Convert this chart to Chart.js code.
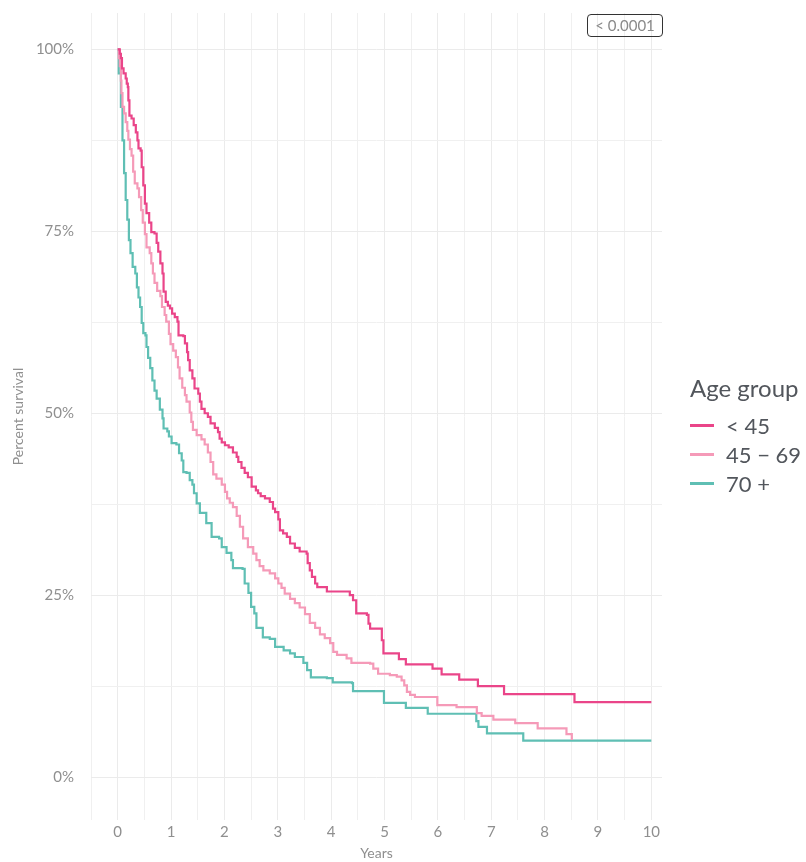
<!DOCTYPE html>
<html>
<head>
<meta charset="utf-8">
<script src="https://cdn.jsdelivr.net/npm/chart.js@4.4.1/dist/chart.umd.min.js"></script>
<style>
  html, body { margin: 0; padding: 0; background: #ffffff; }
  #wrap { position: relative; width: 806px; height: 862px; font-family: Lato, "Noto Sans", sans-serif; }
  #c { position: absolute; left: 0; top: 0; }
  #pbox { position: absolute; left: 587px; top: 14px; width: 74px; height: 21px; border: 1px solid #333; border-radius: 4px;
          color: #8a8a8a; font-size: 15px; line-height: 21px; text-align: center; box-sizing: content-box; }
  #legend { position: absolute; left: 690px; top: 372px; color: #52565c; }
  #legend .title { font-size: 24px; line-height: 32px; margin-bottom: 7px; }
  #legend .item { display: flex; align-items: center; height: 29px; font-size: 22px; }
  #legend .sw { width: 24px; height: 2.5px; margin-right: 12px; }
</style>
</head>
<body>
<div id="wrap">
  <canvas id="c" width="806" height="862"></canvas>
  <div id="pbox">&lt; 0.0001</div>
  <div id="legend"></div>
</div>
<script>
// ---- Data (years, percent survival) ----
const seriesLabels = ["< 45", "45 \u2212 69", "70 +"];
const seriesColors = ["#EA4589", "#F59AB8", "#5FBFB4"];

const timeLt45 = [0,0.04,0.06,0.08,0.11,0.15,0.17,0.19,0.20,0.22,0.26,0.30,0.34,0.37,0.39,0.43,0.45,0.48,0.51,0.54,0.59,0.63,0.69,0.73,0.76,0.80,0.84,0.86,0.90,0.94,0.98,1.02,1.07,1.12,1.14,1.23,1.26,1.30,1.32,1.35,1.40,1.44,1.51,1.54,1.57,1.63,1.69,1.74,1.82,1.88,1.91,1.95,2.01,2.08,2.16,2.23,2.26,2.32,2.38,2.44,2.51,2.59,2.63,2.68,2.76,2.85,2.91,2.95,3.01,3.04,3.10,3.17,3.23,3.32,3.41,3.54,3.56,3.60,3.64,3.70,3.74,3.92,4.35,4.41,4.47,4.67,4.70,4.73,4.95,4.98,5.27,5.40,5.90,6.07,6.40,6.75,7.24,8.56,10.0];
const survLt45 = [100,99.4,98.8,97.4,96.7,96.0,95.3,94.8,93.0,90.9,90.5,89.6,88.6,87.5,86.4,86.1,83.8,81.3,78.8,77.5,76.2,74.9,74.7,73.4,72.2,70.6,69.2,66.7,65.3,64.8,64.4,63.7,63.2,62.6,60.7,60.6,59.6,58.4,57.3,55.9,54.8,53.4,52.7,51.6,50.6,50.0,49.5,48.6,48.0,47.4,46.5,46.0,45.6,45.3,44.6,44.0,43.3,42.5,41.8,41.2,39.9,39.4,39.0,38.6,38.3,37.8,36.9,36.4,35.4,33.9,33.5,33.0,32.1,31.5,31.0,30.7,29.4,28.4,27.5,26.6,26.1,25.5,25.0,24.3,22.5,22.3,21.1,20.4,18.8,17.0,16.2,15.5,14.9,14.1,13.4,12.5,11.4,10.3,10.3];

const time45to69 = [0,0.02,0.04,0.06,0.07,0.09,0.12,0.15,0.18,0.20,0.23,0.26,0.29,0.32,0.37,0.40,0.44,0.47,0.51,0.54,0.60,0.63,0.66,0.69,0.74,0.80,0.83,0.88,0.91,0.96,0.99,1.04,1.09,1.13,1.16,1.21,1.26,1.29,1.35,1.38,1.41,1.48,1.57,1.63,1.69,1.74,1.79,1.85,1.95,2.01,2.05,2.10,2.16,2.23,2.29,2.35,2.44,2.54,2.60,2.66,2.73,2.85,2.95,3.01,3.07,3.13,3.23,3.32,3.41,3.51,3.60,3.70,3.79,3.88,3.98,4.04,4.11,4.29,4.38,4.73,4.79,4.88,5.10,5.23,5.32,5.37,5.42,5.48,5.57,5.99,6.35,6.73,6.82,7.04,7.45,7.87,8.41,8.51];
const surv45to69 = [100,98.8,97.7,95.7,94.0,92.1,91.2,90.0,88.8,87.6,86.3,85.4,83.2,81.6,80.9,79.7,77.9,76.2,74.6,72.8,72.0,70.6,69.2,67.9,66.8,66.1,64.6,63.5,62.6,60.9,59.5,58.6,57.7,56.3,54.8,53.5,52.5,51.6,50.1,48.8,47.7,47.0,46.4,45.7,44.6,43.3,41.6,41.0,40.2,39.2,38.3,37.7,37.1,35.9,34.4,32.8,31.6,30.7,29.8,29.0,28.4,28.0,27.3,26.6,26.0,25.2,24.5,23.9,23.3,22.4,21.2,20.5,19.6,19.1,18.4,17.2,16.8,16.3,15.7,15.6,14.9,14.2,14.0,13.8,13.3,12.6,11.7,11.3,11.0,9.9,9.6,8.8,8.4,7.9,7.4,6.7,5.9,5.1];

const time70plus = [0,0.02,0.06,0.09,0.12,0.15,0.18,0.21,0.24,0.28,0.33,0.36,0.39,0.42,0.45,0.48,0.52,0.54,0.57,0.61,0.65,0.69,0.73,0.79,0.84,0.86,0.93,0.96,1.01,1.10,1.15,1.20,1.23,1.29,1.35,1.40,1.43,1.48,1.54,1.66,1.76,1.90,1.95,2.04,2.13,2.16,2.34,2.38,2.45,2.50,2.56,2.60,2.72,2.85,2.95,3.11,3.23,3.32,3.48,3.55,3.62,3.92,4.03,4.39,4.41,4.99,5.40,5.81,6.72,6.76,6.92,7.60,10.0];
const surv70plus = [100,96.7,92.1,87.5,83.0,79.3,76.6,73.8,72.0,70.1,69.2,67.3,65.9,64.6,62.4,61.0,60.7,59.1,57.6,56.2,54.5,53.1,52.0,50.5,49.3,47.9,47.5,46.8,45.9,45.7,44.5,43.5,41.9,41.8,40.8,40.2,39.0,37.6,36.3,34.9,33.0,32.8,31.6,30.8,29.8,28.7,28.6,26.6,25.3,23.4,22.5,20.5,19.2,19.0,17.9,17.4,17.0,16.5,15.7,14.7,13.7,13.6,13.0,12.9,11.8,10.2,9.5,8.7,7.7,6.9,6.0,5.0,5.0];

const xTickValues = [0,1,2,3,4,5,6,7,8,9,10];
const yTickValues = [0,25,50,75,100];
const yTickLabels = ["0%","25%","50%","75%","100%"];

// ---- Build ----
const allTimes = [timeLt45, time45to69, time70plus];
const allSurv = [survLt45, surv45to69, surv70plus];

const datasets = seriesLabels.map((lab, i) => ({
  label: lab,
  data: allTimes[i].map((t, k) => ({ x: t, y: allSurv[i][k] })),
  borderColor: seriesColors[i],
  backgroundColor: seriesColors[i],
  borderWidth: 2.2,
  pointRadius: 0,
  stepped: 'before',
  fill: false
}));
datasets[0].order = 0; datasets[1].order = 1; datasets[2].order = 2;

const FONT = "Lato, 'Noto Sans', sans-serif";
const TICK_COLOR = "#8f8f8f";

const xGrid = [];
for (let v = -0.5; v <= 10.001; v += 0.5) xGrid.push(Math.round(v * 10) / 10);
const yGrid = [];
for (let v = 0; v <= 100.001; v += 12.5) yGrid.push(v);

new Chart(document.getElementById('c'), {
  type: 'line',
  data: { datasets },
  options: {
    responsive: false,
    animation: false,
    devicePixelRatio: 1,
    layout: { padding: { top: 13, right: 144, left: 0, bottom: 0 } },
    plugins: { legend: { display: false }, tooltip: { enabled: false } },
    scales: {
      x: {
        type: 'linear',
        min: -0.5, max: 10.2,
        afterBuildTicks: s => { s.ticks = xGrid.map(v => ({ value: v })); },
        afterFit: s => { s.height = 42; s.paddingLeft = 0; s.paddingRight = 0; },
        border: { display: false },
        grid: {
          drawTicks: false,
          color: ctx => (ctx.tick && Number.isInteger(ctx.tick.value)) ? '#ebebeb' : '#f0f0f0',
          lineWidth: 1
        },
        ticks: {
          autoSkip: false, maxRotation: 0, padding: 3,
          color: TICK_COLOR, font: { family: FONT, size: 15 },
          callback: v => xTickValues.includes(v) ? String(v) : ''
        },
        title: { display: true, text: 'Years', color: TICK_COLOR, font: { family: FONT, size: 14 }, padding: { top: 0, bottom: 0 } }
      },
      y: {
        type: 'linear',
        min: -5.9, max: 105,
        afterBuildTicks: s => { s.ticks = yGrid.map(v => ({ value: v })); },
        afterFit: s => { s.width = 91; s.paddingTop = 0; s.paddingBottom = 0; },
        border: { display: false },
        grid: {
          drawTicks: false,
          color: ctx => (ctx.tick && yTickValues.includes(ctx.tick.value)) ? '#ebebeb' : '#f0f0f0',
          lineWidth: 1
        },
        ticks: {
          autoSkip: false, padding: 17,
          color: TICK_COLOR, font: { family: FONT, size: 15 },
          callback: v => { const i = yTickValues.indexOf(v); return i >= 0 ? yTickLabels[i] : ''; }
        },
        title: { display: true, text: 'Percent survival', color: TICK_COLOR, font: { family: FONT, size: 14 }, padding: { top: 10, bottom: 0 } }
      }
    }
  }
});

// ---- HTML legend ----
const lg = document.getElementById('legend');
const t = document.createElement('div'); t.className = 'title'; t.textContent = 'Age group'; lg.appendChild(t);
seriesLabels.forEach((lab, i) => {
  const it = document.createElement('div'); it.className = 'item';
  const sw = document.createElement('span'); sw.className = 'sw'; sw.style.background = seriesColors[i];
  const tx = document.createElement('span'); tx.textContent = lab;
  it.appendChild(sw); it.appendChild(tx); lg.appendChild(it);
});
</script>
</body>
</html>
